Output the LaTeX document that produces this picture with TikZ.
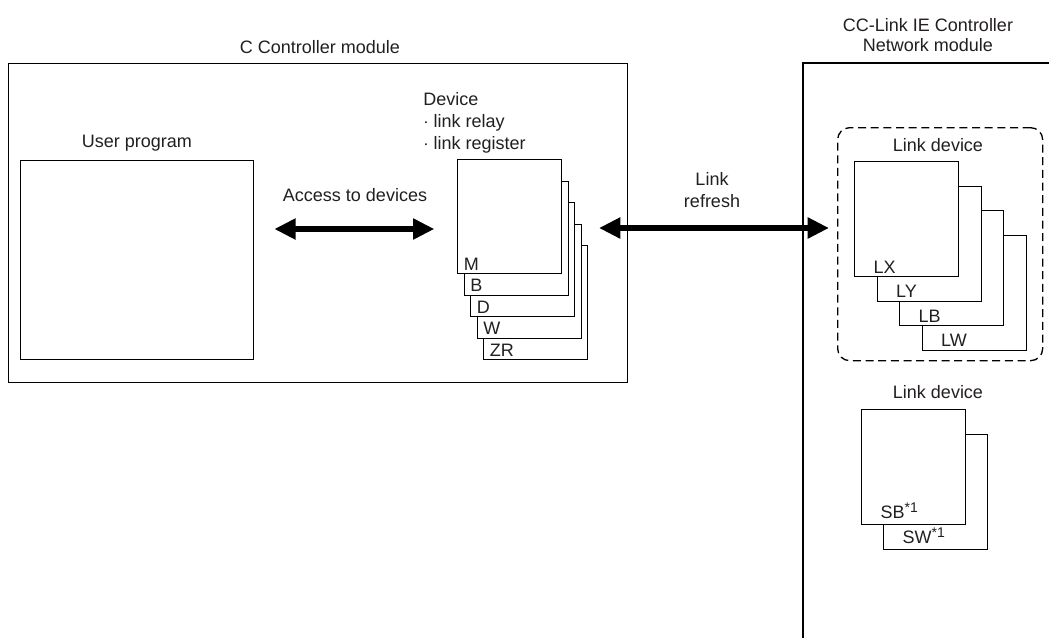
\documentclass[tikz,border=0pt]{standalone}
\usepackage{fontspec}
\setmainfont{Liberation Sans}
\usetikzlibrary{arrows.meta, calc}
\definecolor{inkgray}{RGB}{35, 31, 32}

\begin{document}
\begin{tikzpicture}[x=0.75pt, y=-0.75pt, font={\fontsize{13.5}{16.5}\selectfont}, text=inkgray,
    box/.style={draw=black, line width=1pt, fill=white, anchor=north west, inner sep=0pt},
    devbox/.style={box, minimum width=78pt, minimum height=85.5pt},
    lnkbox/.style={box, minimum width=78pt, minimum height=86.25pt},
    boxlbl/.style={anchor=base west, inner sep=0pt, xshift=5pt, yshift=3pt},
    bigarrow/.style={{Triangle[length=16pt,width=15pt]}-{Triangle[length=16pt,width=15pt]}, line width=5pt}]
  \fill[white] (0,0) rectangle (1049,637);
  \useasboundingbox (0,0) rectangle (1049,637);
  \clip (0,0) rectangle (1049,637);

  % C Controller module
  \node[box, minimum width=464.25pt, minimum height=239.25pt] (cmod) at (8,63) {};
  \node (cmodlbl) at (320,47) {C Controller module};
  \node[box, minimum width=174.75pt, minimum height=149.25pt] (user) at (20,160) {};
  \node (userlbl) at (137,143) {User program};

  % device stack
  \node[anchor=west, align=left, inner sep=0pt] (devlbl) at (423,123)
       {Device\\$\cdot$ link relay\\$\cdot$ link register};
  \foreach \i/\lbl in {4/ZR, 3/W, 2/D, 1/B, 0/M} {
    \node[devbox] (dev\lbl) at ({457+6.5*\i},{159+21.5*\i}) {};
    \node[boxlbl] at (dev\lbl.south west) {\lbl};
  }

  % CC-Link IE Controller Network module
  \draw[line width=1pt] (803,660) |- (1070,63);
  \node[align=center, font={\fontsize{13.5}{15}\selectfont}] (cclbl) at (928,35)
       {CC-Link IE Controller\\Network module};

  \node[draw=black, dash pattern=on 6pt off 3.5pt, line width=1pt, rounded corners=9pt,
        anchor=north west, minimum width=153.75pt, minimum height=174.75pt] (lnkgrp) at (837,127) {};
  \node (lnklbl) at (938,145) {Link device};
  \foreach \i/\lbl in {3/LW, 2/LB, 1/LY, 0/LX} {
    \node[lnkbox] (lnk\lbl) at ({854+22.5*\i},{161+24.5*\i}) {};
    \node[boxlbl, xshift=9.5pt] at (lnk\lbl.south west) {\lbl};
  }

  \node (sysl) at (938,392) {Link device};
  \foreach \i/\lbl in {1/SW, 0/SB} {
    \node[lnkbox] (sys\lbl) at ({861+22*\i},{409+25*\i}) {};
    \node[boxlbl, xshift=9.5pt, yshift=2pt] at (sys\lbl.south west)
         {\lbl\raisebox{5pt}{\fontsize{10.5}{10.5}\selectfont *1}};
  }

  % arrows
  \coordinate (accrow) at (0,229);
  \coordinate (refrow) at (0,228);
  \draw[bigarrow, shorten <=15pt, shorten >=17pt] (user.east |- accrow) -- (devM.west |- accrow);
  \node (acclbl) at (355,195) {Access to devices};
  \draw[bigarrow, shorten <=8pt, shorten >=6pt] (devZR.east |- refrow) -- (lnkgrp.west |- refrow);
  \node[align=center] (reflbl) at (712,190) {Link\\refresh};
\end{tikzpicture}
\end{document}
